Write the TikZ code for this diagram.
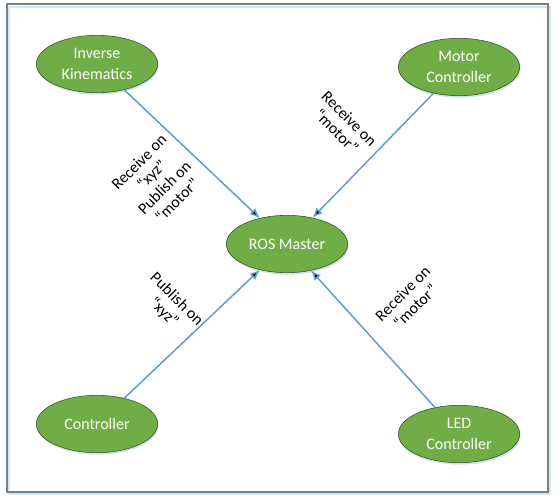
\documentclass[tikz,border=0pt]{standalone}
\usepackage{fontspec}
\setmainfont{Carlito}
\usetikzlibrary{arrows.meta}
\usetikzlibrary{shapes.geometric}
\usetikzlibrary{shadows}
\tikzset{>={Latex[length=2.6mm,width=2.2mm]}}
\definecolor{nodegreen}{HTML}{70AD47}
\definecolor{linkblue}{HTML}{5B9BD5}
\definecolor{framegray}{HTML}{7F7F7F}

\begin{document}
\begin{tikzpicture}[x=0.75pt, y=-0.75pt,
    topic/.style={ellipse, draw=nodegreen!45!black, fill=nodegreen, text=white,
        minimum width=91pt, minimum height=43pt, inner sep=1pt, align=center,
        drop shadow={fill=linkblue!30, shadow xshift=0.6pt, shadow yshift=-1.5pt, opacity=1},
        font=\fontsize{12}{16}\selectfont},
    note/.style={align=center, font=\fontsize{12}{13.5}\selectfont}]
            \useasboundingbox (0,0) rectangle (560,499);
            \draw[linkblue!25, line width=2pt] (9,7) rectangle (550,494);
            \draw[framegray, line width=2.2pt] (7,4) rectangle (548,492);
            \node[topic] (IK) at (97,64) {Inverse\\Kinematics};
            \node[topic] (MC) at (459,67) {Motor\\Controller};
            \node[topic] (ROS) at (287,244) {ROS Master};
            \node[topic] (C) at (97,424) {Controller};
            \node[topic] (LED) at (459,434) {LED\\Controller};
            \path[->, draw=linkblue, line width=1.1pt]
            (IK) edge (ROS)
            (MC) edge (ROS)
            (C) edge (ROS)
            (LED) edge (ROS);
            \node[note, rotate=45] (IKnote) at (158,181) {Receive on\\“xyz”\\Publish on\\“motor”};
            \node[note, rotate=-45] (MCnote) at (343,125) {Receive on\\“motor”};
            \node[note, rotate=-45] (Cnote) at (170,306) {Publish on\\“xyz”};
            \node[note, rotate=45] (LEDnote) at (409,300) {Receive on\\“motor”};
        \end{tikzpicture}
\end{document}
